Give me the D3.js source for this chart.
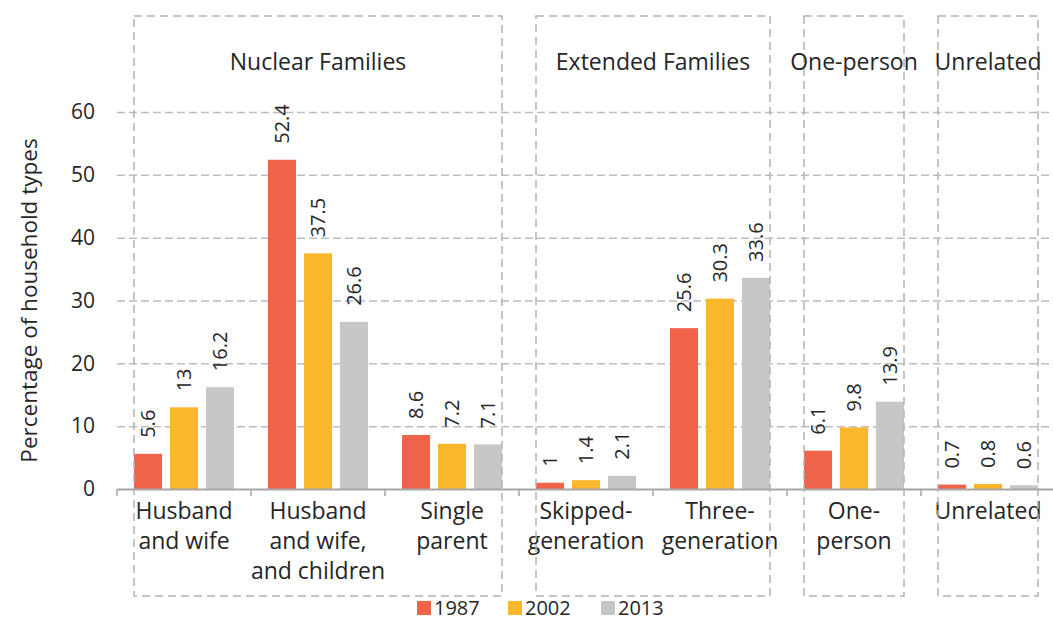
<!DOCTYPE html>
<html>
<head>
<meta charset="utf-8">
<script src="https://cdn.jsdelivr.net/npm/d3@7"></script>
<style>
  body { margin: 0; background: #fff; }
  svg text { font-family: "Open Sans", "Noto Sans", sans-serif; fill: #262626; }
</style>
</head>
<body>
<div id="chart"></div>
<script>
// categories and their wrapped labels
var categories = ["Husband and wife", "Husband and wife, and children", "Single parent",
    "Skipped-generation", "Three-generation", "One-person", "Unrelated"];
var categoryLines = [["Husband", "and wife"], ["Husband", "and wife,", "and children"],
    ["Single", "parent"], ["Skipped-", "generation"], ["Three-", "generation"],
    ["One-", "person"], ["Unrelated"]];

// series
var years = ["1987", "2002", "2013"];
var values1987 = [5.6, 52.4, 8.6, 1, 25.6, 6.1, 0.7];
var values2002 = [13, 37.5, 7.2, 1.4, 30.3, 9.8, 0.8];
var values2013 = [16.2, 26.6, 7.1, 2.1, 33.6, 13.9, 0.6];

// family groups (first and last category in each)
var groupNames = ["Nuclear Families", "Extended Families", "One-person", "Unrelated"];
var groupFirst = [0, 3, 5, 6];
var groupLast = [2, 4, 5, 6];

var yTicks = [0, 10, 20, 30, 40, 50, 60];
var colors = ["#ef634b", "#fbb72b", "#c7c7c7"];

var seriesValues = [values1987, values2002, values2013];
var rows = categories.map(function(c, i) {
    return { cat: c, vals: years.map(function(y, j) { return { year: y, value: seriesValues[j][i] }; }) };
});

var svgWidth = 1053, svgHeight = 621;

var svg = d3.select("#chart").append("svg")
    .attr("width", svgWidth)
    .attr("height", svgHeight);

var x0 = d3.scaleBand()
    .domain(categories)
    .range([117, 1055])
    .padding(0);

var x1 = d3.scaleBand()
    .domain(years)
    .range([17, x0.bandwidth() - 17])
    .paddingInner(0.22);

var yScale = d3.scaleLinear()
    .domain([0, 60])
    .range([489, 112]);

var color = d3.scaleOrdinal().domain(years).range(colors);

// y axis with gridlines
var yAxis = d3.axisLeft(yScale)
    .tickValues(yTicks)
    .tickSize(-(svgWidth - 117))
    .tickPadding(22);

var yG = svg.append("g")
    .attr("transform", "translate(117,0)")
    .call(yAxis);
yG.select(".domain").remove();
yG.selectAll(".tick line")
    .attr("stroke", "#bdbdbd")
    .attr("stroke-width", 1.5)
    .attr("stroke-dasharray", "8,4")
    .filter(function(d) { return d === 0; }).remove();
yG.selectAll(".tick text")
    .style("font-size", "21px")
    .attr("fill", "#262626");

svg.append("text")
    .attr("transform", "translate(37," + ((112 + 489) / 2) + ") rotate(-90)")
    .attr("text-anchor", "middle")
    .style("font-size", "22.5px")
    .text("Percentage of household types");

// bars
var catG = svg.selectAll(".cat")
    .data(rows)
    .enter().append("g")
    .attr("class", "cat")
    .attr("transform", function(d) { return "translate(" + x0(d.cat) + ",0)"; });

catG.selectAll("rect")
    .data(function(d) { return d.vals; })
    .enter().append("rect")
    .attr("x", function(d) { return x1(d.year); })
    .attr("y", function(d) { return yScale(d.value); })
    .attr("width", x1.bandwidth())
    .attr("height", function(d) { return yScale(0) - yScale(d.value); })
    .attr("fill", function(d) { return color(d.year); });

// value labels
catG.selectAll(".val")
    .data(function(d) { return d.vals; })
    .enter().append("text")
    .attr("class", "val")
    .attr("transform", function(d) {
        return "translate(" + (x1(d.year) + x1.bandwidth() / 2) + "," + (yScale(d.value) - 16) + ") rotate(-90)";
    })
    .attr("dy", "0.35em")
    .attr("text-anchor", "start")
    .style("font-size", "20px")
    .text(function(d) { return d.value; });

// x axis baseline
var xAxis = d3.axisBottom(x0).tickSize(0).tickFormat("");
var xG = svg.append("g")
    .attr("transform", "translate(0," + yScale(0) + ")")
    .call(xAxis);
xG.select(".domain").attr("stroke", "#a6a6a6").attr("stroke-width", 2);
xG.selectAll(".tick").remove();
xG.selectAll(".edge")
    .data(categories)
    .enter().append("line")
    .attr("class", "edge")
    .attr("x1", function(d) { return x0(d); })
    .attr("x2", function(d) { return x0(d); })
    .attr("y1", 0)
    .attr("y2", 7)
    .attr("stroke", "#a6a6a6")
    .attr("stroke-width", 1.5);

// category labels
svg.selectAll(".catlabel")
    .data(categories)
    .enter().append("text")
    .attr("class", "catlabel")
    .attr("text-anchor", "middle")
    .style("font-size", "23px")
    .each(function(d, i) {
        var cx = x0(d) + x0.bandwidth() / 2;
        d3.select(this).selectAll("tspan")
            .data(categoryLines[i])
            .enter().append("tspan")
            .attr("x", cx)
            .attr("y", function(t, k) { return 519 + k * 30; })
            .text(function(t) { return t; });
    });

// dashed group boxes
var boxTop = 16, boxBottom = 596;
groupNames.forEach(function(name, g) {
    var left = x0(categories[groupFirst[g]]) + x1(years[0]);
    var right = x0(categories[groupLast[g]]) + x1(years[2]) + x1.bandwidth();
    svg.append("rect")
        .attr("x", left)
        .attr("y", boxTop)
        .attr("width", right - left)
        .attr("height", boxBottom - boxTop)
        .attr("fill", "none")
        .attr("stroke", "#b3b3b3")
        .attr("stroke-width", 1.5)
        .attr("stroke-dasharray", "8,5");
    svg.append("text")
        .attr("x", (left + right) / 2)
        .attr("y", 70)
        .attr("text-anchor", "middle")
        .style("font-size", "23px")
        .text(name);
});

// legend
var legendX = [417, 508, 601];
var legend = svg.selectAll(".legend")
    .data(years)
    .enter().append("g")
    .attr("class", "legend")
    .attr("transform", function(d, i) { return "translate(" + legendX[i] + ",601)"; });
legend.append("rect")
    .attr("width", 14)
    .attr("height", 14)
    .attr("fill", function(d) { return color(d); });
legend.append("text")
    .attr("x", 17)
    .attr("y", 14)
    .style("font-size", "20px")
    .text(function(d) { return d; });
</script>
</body>
</html>
